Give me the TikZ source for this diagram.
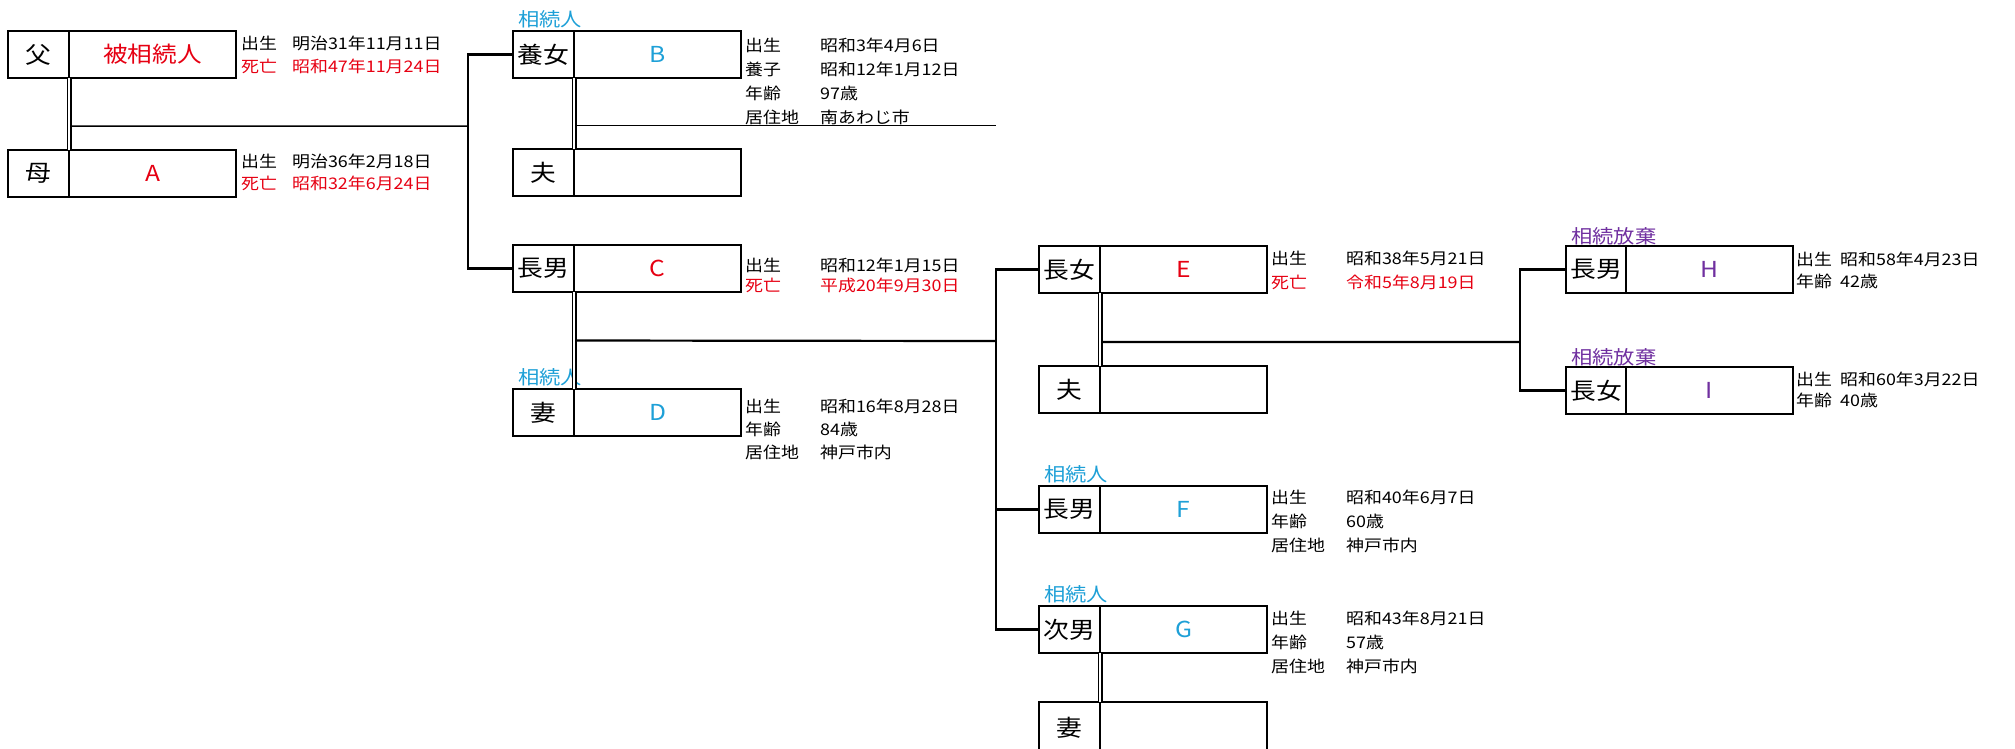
\documentclass[tikz,border=0pt]{standalone}
\usepackage{fontspec}
\setmainfont{Noto Sans CJK JP}[FakeStretch=1.12]
\usetikzlibrary{positioning,calc}
\definecolor{kred}{RGB}{230,0,18}
\definecolor{kcyan}{RGB}{30,160,215}
\definecolor{kpurple}{RGB}{112,48,160}
\tikzset{
  role/.style={draw,line width=2.3pt,minimum width=61pt,minimum height=47pt,inner sep=0pt,outer sep=0pt,anchor=north west,font=\fontsize{23}{23}\selectfont},
  namecell/.style={draw,line width=2.3pt,minimum width=167pt,minimum height=47pt,inner sep=0pt,outer sep=0pt,font=\fontsize{22}{22}\selectfont},
  info/.style={anchor=north west,inner sep=0pt,font=\fontsize{16}{24}\selectfont},
  heirtag/.style={anchor=south west,inner sep=0pt,font=\fontsize{19}{19}\selectfont},
  conn/.style={line width=2.2pt},
  thinconn/.style={line width=1.5pt},
  dbl/.style={double,line width=1.3pt,double distance=2.4pt}
}
\begin{document}
\begin{tikzpicture}[x=1pt,y=-1pt]
\useasboundingbox (0,0) rectangle (2015,748);
% parents
\node[role] (fatherR) at (8,31) {父};
\node[namecell,right=0pt of fatherR,text=kred] (fatherN) {被相続人};
\node[info,font=\fontsize{16}{23}\selectfont] (fatherI) at ([xshift=5pt,yshift=-2pt]fatherN.north east)
  {\begin{tabular}{@{}p{51pt}@{}l@{}}出生 & 明治31年11月11日\\ \textcolor{kred}{死亡} & \textcolor{kred}{昭和47年11月24日}\end{tabular}};
\node[role] (motherR) at (8,150) {母};
\node[namecell,right=0pt of motherR,text=kred] (motherN) {A};
\node[info,font=\fontsize{16}{22}\selectfont] (motherI) at ([xshift=5pt,yshift=-2pt]motherN.north east)
  {\begin{tabular}{@{}p{51pt}@{}l@{}}出生 & 明治36年2月18日\\ \textcolor{kred}{死亡} & \textcolor{kred}{昭和32年6月24日}\end{tabular}};
% B
\node[role] (bR) at (513,31) {養女};
\node[namecell,right=0pt of bR,text=kcyan] (bN) {B};
\node[heirtag,text=kcyan] (bT) at ([xshift=5pt,yshift=3pt]bR.north west) {相続人};
\node[info] (bI) at ([xshift=4pt,yshift=-3pt]bN.north east)
  {\begin{tabular}{@{}p{75pt}@{}l@{}}出生 & 昭和3年4月6日\\ 養子 & 昭和12年1月12日\\ 年齢 & 97歳\\ 居住地 & 南あわじ市\end{tabular}};
\node[role] (bhR) at (513,149) {夫};
\node[namecell,right=0pt of bhR] (bhN) {};
% C, D
\node[role] (cR) at (513,245) {長男};
\node[namecell,right=0pt of cR,text=kred] (cN) {C};
\node[info,font=\fontsize{16}{20}\selectfont] (cI) at ([xshift=4pt,yshift=-12pt]cN.north east)
  {\begin{tabular}{@{}p{75pt}@{}l@{}}出生 & 昭和12年1月15日\\ \textcolor{kred}{死亡} & \textcolor{kred}{平成20年9月30日}\end{tabular}};
\node[role] (dR) at (513,389) {妻};
\node[namecell,right=0pt of dR,text=kcyan] (dN) {D};
\node[heirtag,text=kcyan] (dT) at ([xshift=5pt,yshift=3pt]dR.north west) {相続人};
\node[info,font=\fontsize{16}{23}\selectfont] (dI) at ([xshift=4pt,yshift=-7pt]dN.north east)
  {\begin{tabular}{@{}p{75pt}@{}l@{}}出生 & 昭和16年8月28日\\ 年齢 & 84歳\\ 居住地 & 神戸市内\end{tabular}};
% E and her husband
\node[role] (eR) at (1039,246) {長女};
\node[namecell,right=0pt of eR,text=kred] (eN) {E};
\node[info] (eI) at ([xshift=4pt,yshift=-1pt]eN.north east)
  {\begin{tabular}{@{}p{75pt}@{}l@{}}出生 & 昭和38年5月21日\\ \textcolor{kred}{死亡} & \textcolor{kred}{令和5年8月19日}\end{tabular}};
\node[role] (ehR) at (1039,366) {夫};
\node[namecell,right=0pt of ehR] (ehN) {};
% F, G
\node[role] (fR) at (1039,486) {長男};
\node[namecell,right=0pt of fR,text=kcyan] (fN) {F};
\node[heirtag,text=kcyan] (fT) at ([xshift=5pt,yshift=3pt]fR.north west) {相続人};
\node[info] (fI) at ([xshift=4pt,yshift=0pt]fN.north east)
  {\begin{tabular}{@{}p{75pt}@{}l@{}}出生 & 昭和40年6月7日\\ 年齢 & 60歳\\ 居住地 & 神戸市内\end{tabular}};
\node[role] (gR) at (1039,606) {次男};
\node[namecell,right=0pt of gR,text=kcyan] (gN) {G};
\node[heirtag,text=kcyan] (gT) at ([xshift=5pt,yshift=3pt]gR.north west) {相続人};
\node[info] (gI) at ([xshift=4pt,yshift=-1pt]gN.north east)
  {\begin{tabular}{@{}p{75pt}@{}l@{}}出生 & 昭和43年8月21日\\ 年齢 & 57歳\\ 居住地 & 神戸市内\end{tabular}};
\node[role,minimum height=52pt] (gwR) at (1039,702) {妻};
\node[namecell,minimum height=52pt,right=0pt of gwR] (gwN) {};
% H, I
\node[role,minimum width=60pt] (hR) at (1566,246) {長男};
\node[namecell,right=0pt of hR,text=kpurple] (hN) {H};
\node[heirtag,text=kpurple] (hT) at ([xshift=5pt,yshift=1pt]hR.north west) {相続放棄};
\node[info,font=\fontsize{16}{22}\selectfont] (hI) at ([xshift=3pt,yshift=-4pt]hN.north east)
  {\begin{tabular}{@{}p{44pt}@{}l@{}}出生 & 昭和58年4月23日\\ 年齢 & 42歳\end{tabular}};
\node[role,minimum width=60pt] (iR) at (1566,367) {長女};
\node[namecell,right=0pt of iR,text=kpurple] (iN) {I};
\node[heirtag,text=kpurple] (iT) at ([xshift=5pt,yshift=1pt]iR.north west) {相続放棄};
\node[info,font=\fontsize{16}{21}\selectfont] (iI) at ([xshift=3pt,yshift=-4pt]iN.north east)
  {\begin{tabular}{@{}p{44pt}@{}l@{}}出生 & 昭和60年3月22日\\ 年齢 & 40歳\end{tabular}};
% lines
\coordinate (m1) at ($(fatherR.south east)!0.67!(motherR.north east)$);
\coordinate (m2) at ($(bR.south east)!0.67!(bhR.north east)$);
\coordinate (m3) at ($(cR.south east)!0.5!(dR.north east)$);
\coordinate (m4) at ($(eR.south east)!0.67!(ehR.north east)$);
\coordinate (j1) at (468,126);
\coordinate (j2) at (996,341);
\coordinate (j3) at (1520,342);
\draw[thinconn] (m1) -- (j1);
\draw[conn] (bR.west) -| (j1) |- (cR.west);
\draw[thinconn] (m2) -- (m2 -| j2);
\draw[conn] (m3) -- (j2);
\draw[conn] (eR.west) -| (j2) |- (gR.west);
\draw[conn] (j2 |- fR.west) -- (fR.west);
\draw[conn] (m4) -- (j3);
\draw[conn] (hR.west) -| (j3) |- (iR.west);
\draw[dbl] (fatherR.south east) -- (motherR.north east);
\draw[dbl] (bR.south east) -- (bhR.north east);
\draw[dbl] (cR.south east) -- (dR.north east);
\draw[dbl] (eR.south east) -- (ehR.north east);
\draw[dbl] (gR.south east) -- (gwR.north east);
\end{tikzpicture}
\end{document}
